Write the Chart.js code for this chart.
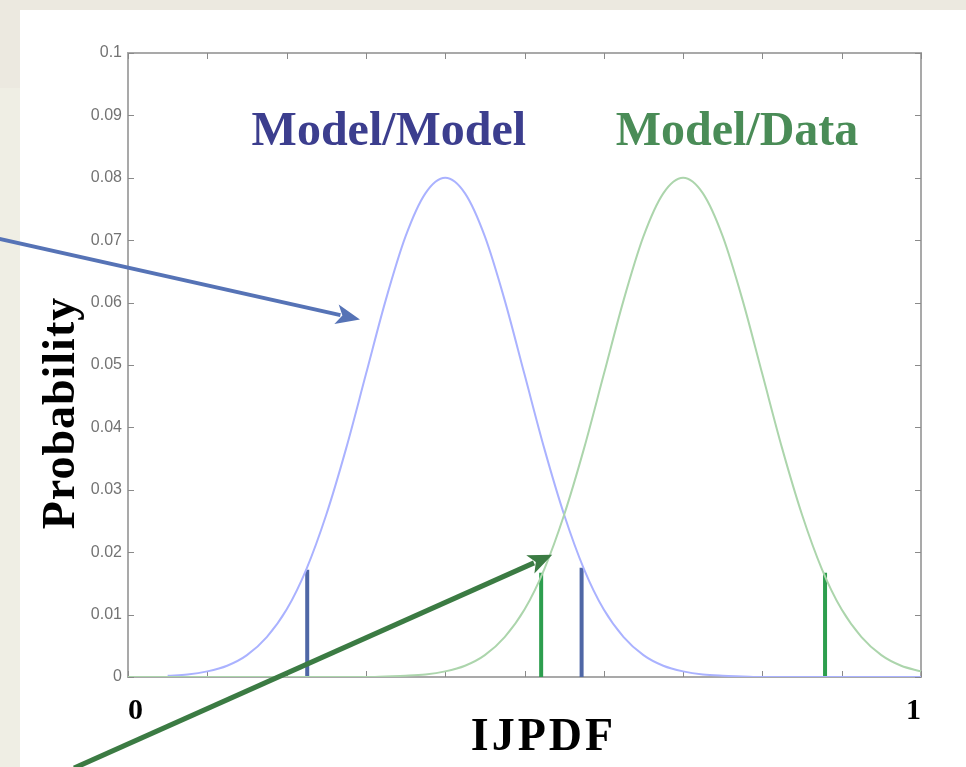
<!DOCTYPE html>
<html>
<head>
<meta charset="utf-8">
<script src="https://cdn.jsdelivr.net/npm/chart.js@4"></script>
<style>
  html, body { margin: 0; padding: 0; }
  body { width: 966px; height: 767px; background: #ece9e0; position: relative; overflow: hidden; }
  #panel { position: absolute; left: 20px; top: 10px; right: 0; bottom: 0; background: #fff; }
  #strip { position: absolute; left: 0; top: 88px; width: 20px; bottom: 0; background: #efeee4; }
  #chart { position: absolute; left: 0; top: 0; }
</style>
</head>
<body>
<div id="strip"></div>
<div id="panel"></div>
<canvas id="chart" width="966" height="767"></canvas>
<script>
// IJPDF values (x) shared by both curves
const ijpdf = [0, 0.025, 0.05, 0.075, 0.1, 0.125, 0.15, 0.175, 0.2, 0.225, 0.25, 0.275, 0.3, 0.325, 0.35, 0.375, 0.4,
  0.425, 0.45, 0.475, 0.5, 0.525, 0.55, 0.575, 0.6, 0.625, 0.65, 0.675, 0.7, 0.725, 0.75, 0.775, 0.8,
  0.825, 0.85, 0.875, 0.9, 0.925, 0.95, 0.975, 1];

// Model/Model probability curve (starts a little after 0)
const modelModel = [null, null, 0.0002, 0.0004, 0.0009, 0.0018, 0.0035, 0.0064, 0.0108, 0.0173, 0.026, 0.0366, 0.0485, 0.0604, 0.0706, 0.0775, 0.08,
  0.0775, 0.0706, 0.0604, 0.0485, 0.0366, 0.026, 0.0173, 0.0108, 0.0064, 0.0035, 0.0018, 0.0009, 0.0004, 0.0002, 0.0001, 0,
  0, 0, 0, 0, 0, 0, 0, 0];

// Model/Data probability curve
const modelData = [0, 0, 0, 0, 0, 0, 0, 0, 0, 0, 0, 0, 0, 0.0001, 0.0002, 0.0004, 0.0009,
  0.0018, 0.0035, 0.0064, 0.0108, 0.0173, 0.026, 0.0366, 0.0485, 0.0604, 0.0706, 0.0775, 0.08, 0.0775, 0.0706, 0.0604, 0.0485,
  0.0366, 0.026, 0.0173, 0.0108, 0.0064, 0.0035, 0.0018, 0.0009];

// vertical markers
const modelModelMarks = [0.226, 0.572];
const modelModelMarkHeights = [0.0172, 0.0175];
const modelDataMarks = [0.521, 0.879];
const modelDataMarkHeights = [0.0167, 0.0167];

const xTickLabels = ['0', '1'];

const SERIF = "'Liberation Serif', 'DejaVu Serif', serif";
const SANS = "'Liberation Sans', Arial, sans-serif";

function curvePoints(values) {
  return ijpdf.map((x, i) => ({ x: x, y: values[i] }));
}

function markPoints(xs, hs) {
  const pts = [];
  xs.forEach((x, i) => {
    pts.push({ x: x, y: 0 }, { x: x, y: hs[i] }, { x: x, y: null });
  });
  return pts;
}

function arrow(ctx, x1, y1, x2, y2, color, width, headLen, headHalf) {
  const ang = Math.atan2(y2 - y1, x2 - x1);
  const bx = x2 - headLen * Math.cos(ang);
  const by = y2 - headLen * Math.sin(ang);
  ctx.save();
  ctx.strokeStyle = color;
  ctx.fillStyle = color;
  ctx.lineWidth = width;
  ctx.beginPath();
  ctx.moveTo(x1, y1);
  ctx.lineTo(bx + 4 * Math.cos(ang), by + 4 * Math.sin(ang));
  ctx.stroke();
  ctx.beginPath();
  ctx.moveTo(x2, y2);
  ctx.lineTo(bx - headHalf * Math.sin(ang), by + headHalf * Math.cos(ang));
  ctx.lineTo(bx + 6 * Math.cos(ang), by + 6 * Math.sin(ang));
  ctx.lineTo(bx + headHalf * Math.sin(ang), by - headHalf * Math.cos(ang));
  ctx.closePath();
  ctx.fill();
  ctx.restore();
}

// frame + inward tick marks on all four sides
const framePlugin = {
  id: 'frame',
  beforeDatasetsDraw(chart) {
    const { ctx, chartArea: a, scales: { x, y } } = chart;
    ctx.save();
    ctx.strokeStyle = '#a9a9a9';
    ctx.lineWidth = 2;
    ctx.strokeRect(a.left, a.top, a.right - a.left, a.bottom - a.top);
    ctx.lineWidth = 1;
    ctx.strokeStyle = '#8a8a8a';
    ctx.beginPath();
    x.ticks.forEach(t => {
      const px = Math.round(x.getPixelForValue(t.value)) + 0.5;
      ctx.moveTo(px, a.bottom); ctx.lineTo(px, a.bottom - 6);
      ctx.moveTo(px, a.top); ctx.lineTo(px, a.top + 6);
    });
    y.ticks.forEach(t => {
      const py = Math.round(y.getPixelForValue(t.value)) + 0.5;
      ctx.moveTo(a.left, py); ctx.lineTo(a.left + 6, py);
      ctx.moveTo(a.right, py); ctx.lineTo(a.right - 6, py);
    });
    ctx.stroke();
    ctx.restore();
  },
  afterDraw(chart) {
    const { ctx, scales: { x, y } } = chart;
    ctx.save();
    ctx.textAlign = 'center';
    ctx.textBaseline = 'alphabetic';
    ctx.font = 'bold 48px ' + SERIF;
    ctx.fillStyle = '#3c3e8e';
    ctx.fillText('Model/Model', x.getPixelForValue(0.329), y.getPixelForValue(0.0853));
    ctx.fillStyle = '#4a8c57';
    ctx.fillText('Model/Data', x.getPixelForValue(0.768), y.getPixelForValue(0.0853));

    ctx.fillStyle = '#000';
    ctx.font = 'bold 46px ' + SERIF;
    ctx.letterSpacing = '3px';
    ctx.fillText('IJPDF', x.getPixelForValue(0.524), 750);
    ctx.save();
    ctx.translate(74, y.getPixelForValue(0.0423));
    ctx.rotate(-Math.PI / 2);
    ctx.letterSpacing = '1px';
    ctx.fillText('Probability', 0, 0);
    ctx.restore();
    ctx.restore();

    // annotation arrows, anchored through the scales
    arrow(ctx, x.getPixelForValue(-0.162), y.getPixelForValue(0.0702),
      x.getPixelForValue(0.2925), y.getPixelForValue(0.0573), '#5673b6', 4, 24, 10);
    arrow(ctx, x.getPixelForValue(-0.068), y.getPixelForValue(-0.0146),
      x.getPixelForValue(0.535), y.getPixelForValue(0.0196), '#3b7b43', 5, 24, 10);
  }
};

new Chart(document.getElementById('chart'), {
  type: 'line',
  data: {
    datasets: [
      { data: curvePoints(modelData), borderColor: '#acd5ac', borderWidth: 2, pointRadius: 0, cubicInterpolationMode: 'monotone', fill: false },
      { data: curvePoints(modelModel), borderColor: '#aab2ff', borderWidth: 2, pointRadius: 0, cubicInterpolationMode: 'monotone', fill: false },
      { data: markPoints(modelModelMarks, modelModelMarkHeights), borderColor: '#4f67a6', borderWidth: 4, pointRadius: 0, spanGaps: false, borderCapStyle: 'butt' },
      { data: markPoints(modelDataMarks, modelDataMarkHeights), borderColor: '#2d9e4e', borderWidth: 4, pointRadius: 0, spanGaps: false, borderCapStyle: 'butt' }
    ]
  },
  options: {
    responsive: false,
    animation: false,
    layout: { padding: { left: 0, right: 45, top: 53, bottom: 0 } },
    plugins: { legend: { display: false }, tooltip: { enabled: false } },
    scales: {
      x: {
        type: 'linear', min: 0, max: 1,
        grid: { display: false, drawTicks: false },
        border: { display: false },
        ticks: {
          stepSize: 0.1, autoSkip: false, maxRotation: 0, align: 'inner', padding: 16,
          color: '#000', font: { family: SERIF, size: 30, weight: 'bold' },
          callback: v => (v === 0 ? xTickLabels[0] : v === 1 ? xTickLabels[1] : '')
        },
        afterFit: s => { s.height = 90; s.paddingLeft = 0; s.paddingRight = 0; }
      },
      y: {
        min: 0, max: 0.1,
        grid: { display: false, drawTicks: false },
        border: { display: false },
        ticks: {
          stepSize: 0.01, padding: 6, color: '#737373', font: { family: SANS, size: 16 },
          callback: v => String(parseFloat(v.toFixed(2)))
        },
        afterFit: s => { s.width = 128; s.paddingTop = 0; s.paddingBottom = 0; }
      }
    }
  },
  plugins: [framePlugin]
});
</script>
</body>
</html>
